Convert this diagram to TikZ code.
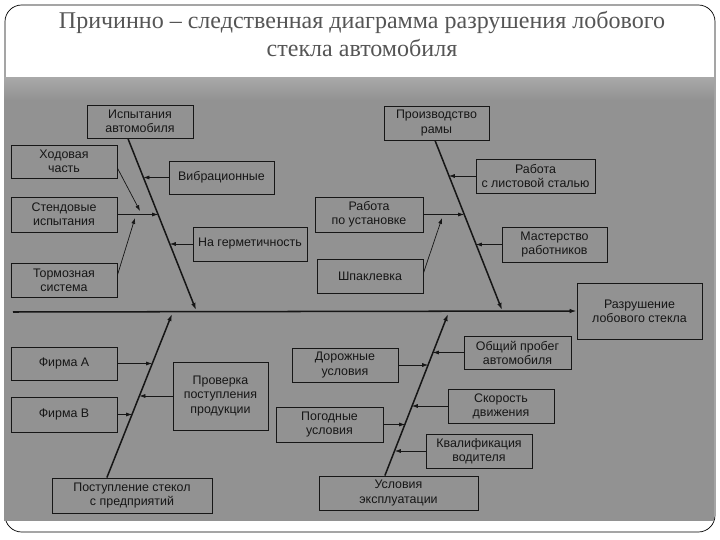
\documentclass[tikz,border=0pt]{standalone}
\usepackage{fontspec}
\setmainfont{Liberation Serif}
\newfontfamily\boxfont{Liberation Sans}
\usetikzlibrary{arrows.meta,calc}
\definecolor{bg}{RGB}{146,146,146}
\definecolor{bglight}{RGB}{168,168,168}
\definecolor{ink}{RGB}{22,22,22}
\definecolor{ttl}{RGB}{85,85,85}
\newcommand\bx[6]{\node[box, minimum width={(#4-#2)*0.03cm}, minimum height={(#5-#3)*0.03cm}] (#1) at ({(#2+#4)/2},{(#3+#5)/2}) {#6};}
\begin{document}
\begin{tikzpicture}[x=0.03cm,y=-0.03cm,
  box/.style={draw=ink, line width=0.8pt, fill=bg, text=ink, font=\boxfont\fontsize{10.6}{12}\selectfont, align=center, inner sep=1pt},
  spine/.style={draw=ink, line width=1.3pt, -{Latex[length=6pt,width=4pt]}},
  br/.style={draw=ink, line width=0.6pt, -{Latex[length=5pt,width=3.5pt]}}]
\useasboundingbox (0,0) rectangle (720,540);
% frame and background
\draw[line width=0.6pt, rounded corners=0.5cm] (5,5) rectangle (715,532);
\fill[bg] (4,78) rectangle (714,521);
\shade[top color=bglight, bottom color=bg] (4,78) rectangle (714,100);
% title
\node[font=\fontsize{20.5}{24}\selectfont, text=ttl, align=center] (title) at (362,34)
  {Причинно – следственная диаграмма разрушения лобового\\стекла автомобиля};
% boxes
\bx{isp}{87}{105}{193}{138}{Испытания\\автомобиля}
\bx{hod}{11}{145}{117}{178}{Ходовая\\часть}
\bx{vib}{169}{161}{274}{194}{Вибрационные}
\bx{sten}{11}{197}{117}{232}{Стендовые\\испытания}
\bx{germ}{193}{227}{307}{261}{На герметичность}
\bx{torm}{11}{263}{117}{297}{Тормозная\\система}
\bx{prom}{384}{106}{489}{140}{Производство\\рамы}
\bx{list}{476}{159}{595}{193}{Работа\\с листовой сталью}
\bx{ust}{315}{197}{423}{232}{Работа\\по установке}
\bx{mast}{502}{227}{607}{262}{Мастерство\\работников}
\bx{shp}{317}{259}{423}{293}{Шпаклевка}
\bx{razr}{577}{283}{702}{339}{Разрушение\\лобового стекла}
\bx{fa}{11}{347}{117}{380}{Фирма А}
\bx{fb}{11}{397}{117}{432}{Фирма В}
\bx{prov}{173}{362}{268}{430}{Проверка\\поступления\\продукции}
\bx{post}{52}{478}{212}{513}{Поступление стекол\\с предприятий}
\bx{dor}{292}{348}{398}{382}{Дорожные\\условия}
\bx{prob}{464}{336}{571}{369}{Общий пробег\\автомобиля}
\bx{skor}{448}{389}{554}{423}{Скорость\\движения}
\bx{pog}{276}{407}{383}{442}{Погодные\\условия}
\bx{kval}{426}{434}{532}{468}{Квалификация\\водителя}
\bx{usl}{319}{476}{478}{510}{Условия\\эксплуатации}
% spine coordinates
\coordinate (s1a) at ($(isp.south west)!0.387!(isp.south east)$);
\coordinate (s1b) at (196,310);
\coordinate (s2a) at ($(prom.south west)!0.486!(prom.south east)$);
\coordinate (s2b) at (502,310);
\coordinate (s3a) at ($(post.north west)!0.344!(post.north east)$);
\coordinate (s3b) at (172,314);
\coordinate (s4a) at ($(usl.north west)!0.415!(usl.north east)$);
\coordinate (s4b) at (448,314);
\coordinate (m0) at (13,312);
% branch targets
\coordinate (tvib) at (143.5,177.5);
\coordinate (tsten) at (158,214.5);
\coordinate (tgerm) at (170,244);
\coordinate (tlist) at (449,176);
\coordinate (tust) at (464,214.5);
\coordinate (tmast) at (476,244.5);
\coordinate (tfa) at (152,363.5);
\coordinate (tfb) at (132,414.5);
\coordinate (tprov) at (139.5,396);
\coordinate (tdor) at (428,365);
\coordinate (tprob) at (433,352.5);
\coordinate (tskor) at (412,406);
\coordinate (tpog) at (405,424.5);
\coordinate (tkval) at (395,451);
\coordinate (thod) at (140,211);
\coordinate (ttorm) at (135,218);
\coordinate (tshp) at (442,218);
% main line and spines
\draw[spine] (m0) -- (razr.west);
\draw[spine] (s1a) -- (s1b);
\draw[spine] (s2a) -- (s2b);
\draw[spine] (s3a) -- (s3b);
\draw[spine] (s4a) -- (s4b);
% branches
\draw[br] (vib.west) -- (tvib);
\draw[br] (sten.east) -- (tsten);
\draw[br] (germ.west) -- (tgerm);
\draw[br] ([yshift=-0.2cm]hod.east) -- (thod);
\draw[br] ([yshift=0.15cm]torm.east) -- (ttorm);
\draw[br] (list.west) -- (tlist);
\draw[br] (ust.east) -- (tust);
\draw[br] (mast.west) -- (tmast);
\draw[br] ([yshift=0.09cm]shp.east) -- (tshp);
\draw[br] (fa.east) -- (tfa);
\draw[br] (fb.east) -- (tfb);
\draw[br] (prov.west) -- (tprov);
\draw[br] (dor.east) -- (tdor);
\draw[br] (prob.west) -- (tprob);
\draw[br] (skor.west) -- (tskor);
\draw[br] (pog.east) -- (tpog);
\draw[br] (kval.west) -- (tkval);
\end{tikzpicture}
\end{document}
